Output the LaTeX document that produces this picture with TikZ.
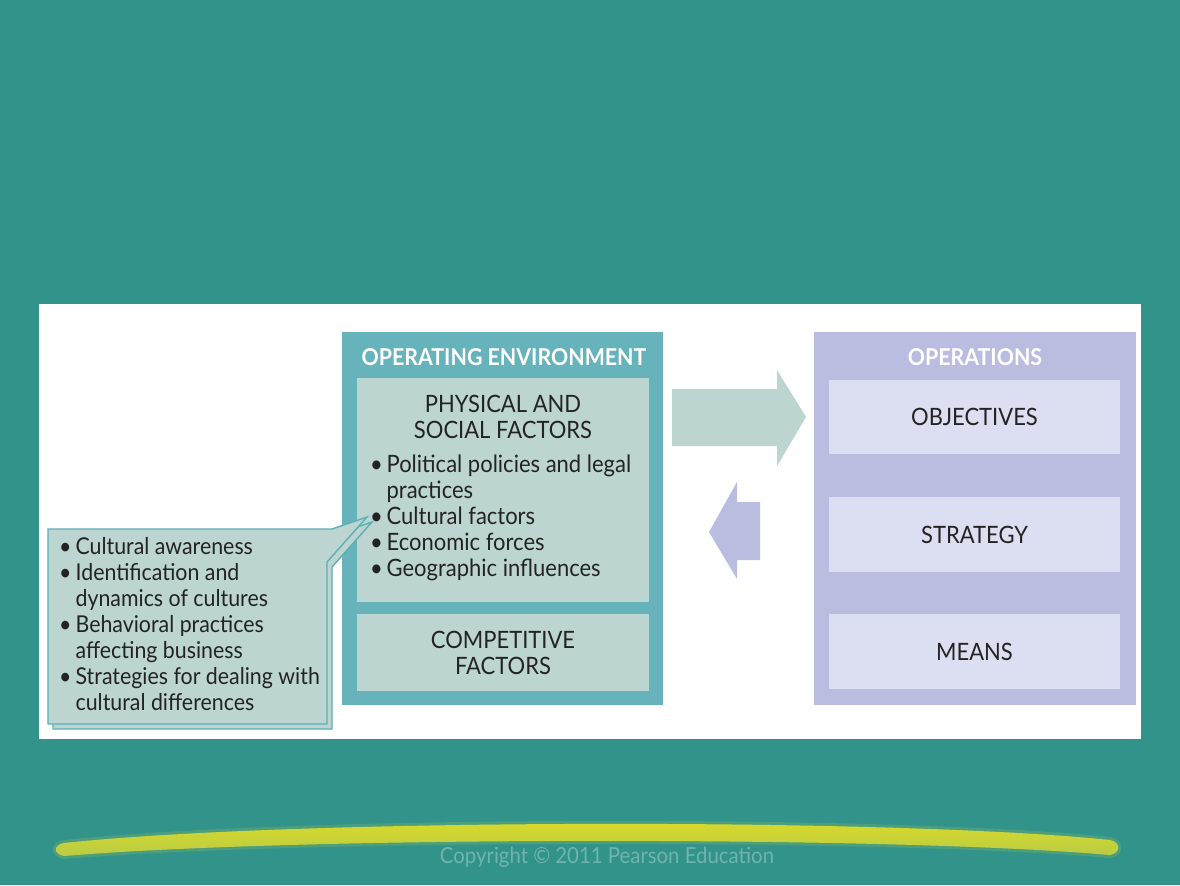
\documentclass[tikz,border=0pt]{standalone}
\usepackage{fontspec}
\setmainfont{Lato}[FakeStretch=0.92]
\usepackage{xcolor}
\usetikzlibrary{calc}

\definecolor{bgteal}{HTML}{32938A}
\definecolor{envblue}{HTML}{67B3BB}
\definecolor{palegreen}{HTML}{BDD5D0}
\definecolor{opslilac}{HTML}{BABDE0}
\definecolor{palelilac}{HTML}{DCDEF1}
\definecolor{edgeteal}{HTML}{5CAFB5}
\definecolor{inkgray}{HTML}{232323}
\definecolor{bandyellow}{HTML}{DCDA26}
\definecolor{bandgreen}{HTML}{B9CC46}

\newcommand{\bul}{\makebox[5.1pt][l]{\hspace{0.4pt}\textbullet}}
\newcommand{\ind}{\hspace*{5.1pt}}

\tikzset{
  flatbox/.style={rectangle, inner sep=0pt, draw=none},
  boxtitle/.style={font=\fontsize{6.6}{7.4}\selectfont\bfseries, text=white, align=center},
  boxtext/.style={font=\fontsize{6.8}{7.4}\selectfont, text=inkgray, align=center},
  listtext/.style={font=\fontsize{6.8}{7.4}\selectfont, text=inkgray, align=left, inner sep=0pt}
}

\begin{document}
\begin{tikzpicture}[x=0.1mm, y=-0.1mm]
        %BACKGROUND
        \fill[bgteal] (0,0) rectangle (1180,885);
        \fill[white] (39,304) rectangle (1141,739);
        %OPERATING ENVIRONMENT
        \node[flatbox, fill=envblue, minimum width=32.1mm, minimum height=37.3mm] (env) at (502.5,518.5) {};
        \node[boxtitle] (envtitle) at (504,357) {OPERATING ENVIRONMENT};
        \node[flatbox, fill=palegreen, minimum width=29.2mm, minimum height=22.4mm] (phys) at (503,490) {};
        \node[boxtext] (physhead) at (503,417) {PHYSICAL AND\\SOCIAL FACTORS};
        \node[listtext, anchor=north west] (physlist) at (368,454) {\bul Political policies and legal\\\ind practices\\\bul Cultural factors\\\bul Economic forces\\\bul Geographic influences};
        \node[flatbox, fill=palegreen, minimum width=29.2mm, minimum height=7.7mm, boxtext] (comp) at (503,652.5) {COMPETITIVE\\FACTORS};
        %OPERATIONS
        \node[flatbox, fill=opslilac, minimum width=32.2mm, minimum height=37.3mm] (ops) at (975,518.5) {};
        \node[boxtitle] (opstitle) at (975,357) {OPERATIONS};
        \node[flatbox, fill=palelilac, minimum width=29.1mm, minimum height=7.4mm, boxtext] (obj) at (974.5,417) {OBJECTIVES};
        \node[flatbox, fill=palelilac, minimum width=29.1mm, minimum height=7.5mm, boxtext] (strat) at (974.5,534.5) {STRATEGY};
        \node[flatbox, fill=palelilac, minimum width=29.1mm, minimum height=7.5mm, boxtext] (means) at (974.5,651.5) {MEANS};
        %ARROWS
        \fill[palegreen] (672,389) -- (777,389) -- (777,370) -- (806,417) -- (777,466) -- (777,446) -- (672,446) -- cycle;
        \fill[opslilac] (760,502) -- (737,502) -- (737,482) -- (709,532) -- (737,579) -- (737,560) -- (760,560) -- cycle;
        %CALLOUT
        \filldraw[fill=palegreen, draw=edgeteal, line width=0.4pt] (53,534) -- (337,534) -- (372,522) -- (332,567) -- (332,729) -- (53,729) -- cycle;
        \filldraw[fill=palegreen, draw=edgeteal, line width=0.4pt] (48,529) -- (332,529) -- (367,517) -- (327,562) -- (327,724) -- (48,724) -- cycle;
        \node[listtext, font=\fontsize{6.6}{7.4}\selectfont, anchor=north west] (culture) at (57,536.5) {\bul Cultural awareness\\\bul Identification and\\\ind dynamics of cultures\\\bul Behavioral practices\\\ind affecting business\\\bul Strategies for dealing with\\\ind cultural differences};
        %BAND
        \filldraw[fill=bandgreen, draw=bandgreen, line width=0.6mm, opacity=0.2] (64,843) .. controls (300,818) and (900,818) .. (1110,840) .. controls (1121,842) and (1121,853) .. (1110,855) .. controls (900,836) and (300,836) .. (64,856) .. controls (53,854) and (53,845) .. (64,843) -- cycle;
        \shade[top color=bandyellow, bottom color=bandgreen] (64,843) .. controls (300,818) and (900,818) .. (1110,840) .. controls (1121,842) and (1121,853) .. (1110,855) .. controls (900,836) and (300,836) .. (64,856) .. controls (53,854) and (53,845) .. (64,843) -- cycle;
        \node[font=\fontsize{6.3}{7}\selectfont, text=bgteal!70!white] (copy) at (607,857) {Copyright © 2011 Pearson Education};
    \end{tikzpicture}
\end{document}
